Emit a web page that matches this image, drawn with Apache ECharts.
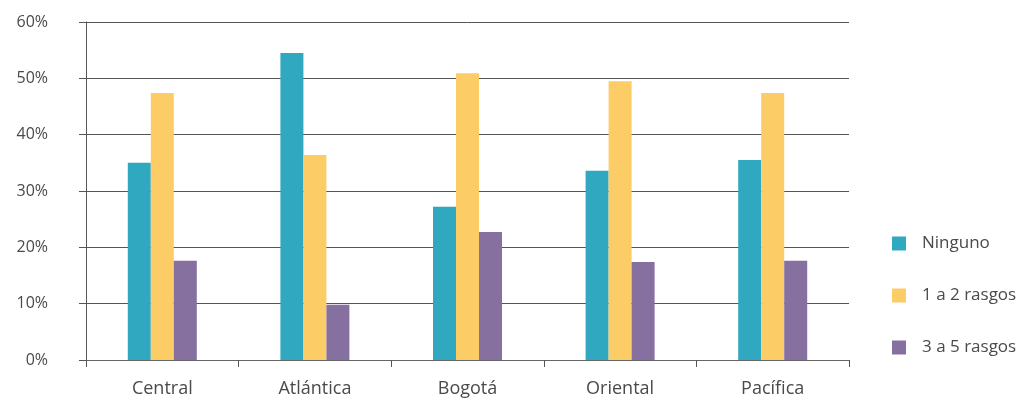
<!DOCTYPE html>
<html><head><meta charset="utf-8">
<script src="https://cdn.jsdelivr.net/npm/echarts@6/dist/echarts.min.js"></script>
<style>html,body{margin:0;padding:0;background:#fff}#c{width:1020px;height:402px}</style>
</head><body><div id="c"></div>
<script>
const categories = ['Central', 'Atlántica', 'Bogotá', 'Oriental', 'Pacífica'];
const ninguno = [35.0, 54.5, 27.2, 33.6, 35.5];
const rasgos12 = [47.4, 36.4, 50.9, 49.5, 47.4];
const rasgos35 = [17.6, 9.8, 22.7, 17.4, 17.6];
const seriesNames = ['Ninguno', '1 a 2 rasgos', '3 a 5 rasgos'];
const colors = ['#2fa8c0', '#fccc66', '#86709f'];

const chart = echarts.init(document.getElementById('c'));
const font = 'Open Sans';
chart.setOption({
  animation: false,
  color: colors,
  grid: {left: 86, right: 171, top: 22, bottom: 42},
  legend: {
    orient: 'vertical', left: 892, top: 235, padding: 0,
    itemWidth: 14, itemHeight: 14, itemGap: 35,
    icon: 'rect',
    textStyle: {fontFamily: font, fontSize: 17, color: '#4a4a4a', padding: [0, 0, 0, 11]},
    data: seriesNames
  },
  xAxis: {
    type: 'category', data: categories,
    axisLine: {lineStyle: {color: '#666', width: 1}},
    axisTick: {show: true, length: 7, lineStyle: {color: '#555'}},
    axisLabel: {fontFamily: font, fontSize: 18, color: '#4a4a4a', margin: 20}
  },
  yAxis: {
    type: 'value', min: 0, max: 60, interval: 10,
    axisLine: {show: true, lineStyle: {color: '#555', width: 1}},
    axisTick: {show: true, length: 7, lineStyle: {color: '#555'}},
    splitLine: {lineStyle: {color: '#555', width: 1}},
    axisLabel: {fontFamily: font, fontSize: 16, color: '#4a4a4a', margin: 38, formatter: '{value}%'}
  },
  series: [
    {name: seriesNames[0], type: 'bar', data: ninguno, barWidth: 23, barGap: '0%'},
    {name: seriesNames[1], type: 'bar', data: rasgos12, barWidth: 23, barGap: '0%'},
    {name: seriesNames[2], type: 'bar', data: rasgos35, barWidth: 23, barGap: '0%'}
  ]
});
</script></body></html>
